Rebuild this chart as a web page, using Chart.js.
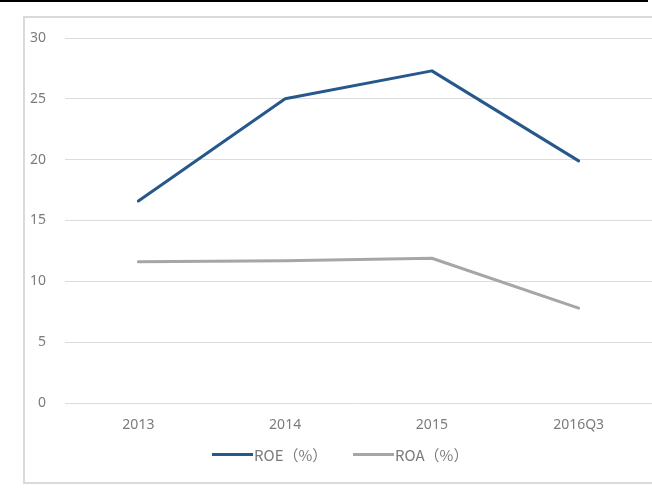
<!DOCTYPE html>
<html>
<head>
<meta charset="utf-8">
<script src="https://cdn.jsdelivr.net/npm/chart.js@4/dist/chart.umd.min.js"></script>
<style>
  html, body { margin: 0; padding: 0; background: #fff; }
  #wrap { width: 652px; height: 491px; position: relative; }
  #legend {
    position: absolute; left: 212px; top: 444px;
    display: flex; font: 15px 'Noto Sans CJK SC', sans-serif; color: #7b7b7b;
  }
  #legend .item { display: flex; align-items: center; width: 141px; height: 20px; }
  #legend .swatch { width: 41px; height: 3px; margin-right: 1px; }
</style>
</head>
<body>
<div id="wrap">
  <canvas id="chart" width="652" height="491"></canvas>
  <div id="legend"></div>
</div>
<script>
const periods = ['2013', '2014', '2015', '2016Q3'];
const roe = [16.6, 25.0, 27.3, 19.9];
const roa = [11.6, 11.7, 11.9, 7.8];
const yTicks = [0, 5, 10, 15, 20, 25, 30];

const textColor = '#7b7b7b';
const gridColor = '#dcdcdc';

// page rule on top and the light frame round the chart
const framePlugin = {
  id: 'frame',
  beforeDraw(chart) {
    const ctx = chart.ctx;
    ctx.save();
    ctx.fillStyle = '#fff';
    ctx.fillRect(0, 0, chart.width, chart.height);
    ctx.strokeStyle = '#000';
    ctx.lineWidth = 2;
    ctx.beginPath();
    ctx.moveTo(0, 1);
    ctx.lineTo(648, 1);
    ctx.stroke();
    ctx.strokeStyle = '#dadada';
    ctx.lineWidth = 2;
    ctx.strokeRect(24, 17, 660, 466);
    ctx.restore();
  }
};

const chart = new Chart(document.getElementById('chart'), {
  type: 'line',
  data: {
    labels: periods,
    datasets: [{
      label: 'ROE（%）',
      data: roe,
      borderColor: '#27588c',
      borderWidth: 3,
      pointRadius: 0,
      tension: 0,
      borderCapStyle: 'round',
      borderJoinStyle: 'round'
    }, {
      label: 'ROA（%）',
      data: roa,
      borderColor: '#a6a6a6',
      borderWidth: 3,
      pointRadius: 0,
      tension: 0,
      borderCapStyle: 'round',
      borderJoinStyle: 'round'
    }]
  },
  options: {
    responsive: false,
    animation: false,
    layout: {
      padding: { top: 38, right: 0, bottom: 52, left: 0 }
    },
    scales: {
      x: {
        offset: true,
        grid: { display: false },
        border: { display: false },
        ticks: {
          color: textColor,
          font: { family: 'Noto Sans', size: 14 },
          padding: 6,
          maxRotation: 0
        },
        afterFit(scale) { scale.height = 36; }
      },
      y: {
        min: 0,
        max: 30,
        afterBuildTicks(scale) {
          scale.ticks = yTicks.map(v => ({ value: v }));
        },
        grid: { color: gridColor, lineWidth: 1, drawTicks: false },
        border: { display: false },
        ticks: {
          color: textColor,
          font: { family: 'Noto Sans', size: 14 },
          padding: 19
        },
        afterFit(scale) { scale.width = 65; }
      }
    },
    plugins: {
      legend: { display: false },
      tooltip: { enabled: false }
    }
  },
  plugins: [framePlugin]
});

// legend built from the datasets
const legendEl = document.getElementById('legend');
chart.data.datasets.forEach(ds => {
  const item = document.createElement('div');
  item.className = 'item';
  const swatch = document.createElement('span');
  swatch.className = 'swatch';
  swatch.style.background = ds.borderColor;
  const label = document.createElement('span');
  label.textContent = ds.label;
  item.appendChild(swatch);
  item.appendChild(label);
  legendEl.appendChild(item);
});
</script>
</body>
</html>
